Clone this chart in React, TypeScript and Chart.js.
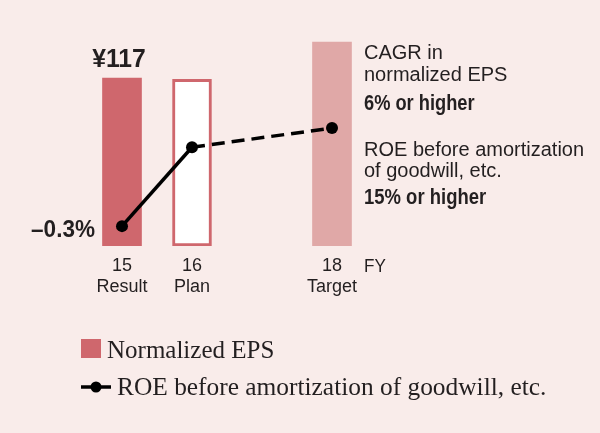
import React, { useEffect, useRef } from 'react';
import { Chart, registerables } from 'chart.js';

Chart.register(...registerables);

// ---- data ----
const years = ['15', '16', '17', '18'];
const yearNotes = ['Result', 'Plan', '', 'Target'];
const epsValues = [117, 116, null, 142];
const roeValues = [-0.3, 12, null, 15];
const epsValueLabel = '¥117';
const roeValueLabel = '–0.3%';
const axisUnit = 'FY';
const epsNoteLines = ['CAGR in', 'normalized EPS'];
const epsNoteTarget = '6% or higher';
const roeNoteLines = ['ROE before amortization', 'of goodwill, etc.'];
const roeNoteTarget = '15% or higher';
const legendLabels = ['Normalized EPS', 'ROE before amortization of goodwill, etc.'];

// ---- style ----
const BG = '#f9ecea';
const RED = '#cf676d';
const PINK = '#e0a8a7';
const INK = '#231f20';
const REG = "'Liberation Sans', Arial, sans-serif";
const SERIF = "'Liberation Serif', 'Times New Roman', serif";

function condensed(ctx: CanvasRenderingContext2D, text: string, x: number, y: number, sx: number) {
  ctx.save();
  ctx.translate(x, y);
  ctx.scale(sx, 1);
  ctx.fillText(text, 0, 0);
  ctx.restore();
}

const annotate = {
  id: 'annotate',
  afterDraw(chart: any) {
    const ctx = chart.ctx as CanvasRenderingContext2D;
    const area = chart.chartArea;
    const barMeta = chart.getDatasetMeta(1);
    const lineMeta = chart.getDatasetMeta(0);
    ctx.save();
    ctx.fillStyle = INK;
    ctx.textBaseline = 'alphabetic';

    // value label above first bar
    const b0 = barMeta.data[0];
    ctx.font = `bold 26px ${REG}`;
    ctx.textAlign = 'center';
    condensed(ctx, epsValueLabel, b0.x - 3, b0.y - 11, 0.95);

    // value label left of first point
    const p0 = lineMeta.data[0];
    ctx.font = `bold 23px ${REG}`;
    ctx.textAlign = 'right';
    condensed(ctx, roeValueLabel, p0.x - 27, p0.y + 10.5, 0.98);

    // right-side notes
    const nx = area.right - 3;
    ctx.textAlign = 'left';
    ctx.font = `20px ${REG}`;
    ctx.fillText(epsNoteLines[0], nx, 59);
    ctx.fillText(epsNoteLines[1], nx, 80.5);
    ctx.font = `bold 22px ${REG}`;
    condensed(ctx, epsNoteTarget, nx, 110, 0.83);
    ctx.font = `20px ${REG}`;
    ctx.fillText(roeNoteLines[0], nx, 156);
    ctx.fillText(roeNoteLines[1], nx, 177);
    ctx.font = `bold 22px ${REG}`;
    condensed(ctx, roeNoteTarget, nx, 203.5, 0.84);

    // axis unit
    ctx.font = `19px ${REG}`;
    condensed(ctx, axisUnit, nx, 272, 0.9);

    // legend
    ctx.fillStyle = RED;
    ctx.fillRect(81, 339, 20, 19);
    ctx.fillStyle = INK;
    ctx.font = `25px ${SERIF}`;
    ctx.fillText(legendLabels[0], 107, 358);
    ctx.strokeStyle = '#000';
    ctx.lineWidth = 3.5;
    ctx.beginPath();
    ctx.moveTo(81, 387);
    ctx.lineTo(111, 387);
    ctx.stroke();
    ctx.fillStyle = '#000';
    ctx.beginPath();
    ctx.arc(96, 387, 5.5, 0, Math.PI * 2);
    ctx.fill();
    ctx.fillStyle = INK;
    ctx.font = `25.4px ${SERIF}`;
    ctx.fillText(legendLabels[1], 117, 395);
    ctx.restore();
  },
};

export default function App() {
  const ref = useRef<HTMLCanvasElement>(null);
  useEffect(() => {
    if (!ref.current) return;
    const chart = new Chart(ref.current, {
      type: 'bar',
      data: {
        labels: years,
        datasets: [
          {
            type: 'line',
            label: legendLabels[1],
            data: roeValues,
            yAxisID: 'y2',
            order: 0,
            borderColor: '#000',
            backgroundColor: '#000',
            borderWidth: 3.5,
            pointRadius: 6,
            pointBackgroundColor: '#000',
            pointBorderWidth: 0,
            spanGaps: true,
            tension: 0,
            segment: {
              borderDash: (c: any) => (c.p0DataIndex >= 1 ? [13, 7] : undefined),
            },
          } as any,
          {
            type: 'bar',
            label: legendLabels[0],
            data: epsValues,
            yAxisID: 'y',
            order: 1,
            backgroundColor: [RED, '#ffffff', RED, PINK],
            borderColor: [RED, RED, RED, PINK],
            borderWidth: [0, 3, 0, 0],
            borderSkipped: false,
            barThickness: 39,
          } as any,
        ],
      },
      options: {
        responsive: false,
        animation: false,
        layout: { padding: { left: 87, right: 233, top: 30.6, bottom: 0 } },
        plugins: { legend: { display: false }, tooltip: { enabled: false } },
        scales: {
          x: {
            type: 'category',
            offset: true,
            grid: { display: false },
            border: { display: false },
            ticks: {
              autoSkip: false,
              maxRotation: 0,
              padding: 2,
              color: INK,
              font: { family: REG, size: 18, lineHeight: 1.15 },
              callback: (_v: any, i: number) => (yearNotes[i] ? [years[i], yearNotes[i]] : ''),
            },
            afterFit: (s: any) => {
              s.height = 187;
            },
          },
          y: { display: false, min: 0, max: 150 },
          y2: { display: false, min: -3.4, max: 30.2, position: 'right' },
        },
      } as any,
      plugins: [annotate],
    });
    return () => chart.destroy();
  }, []);
  return (
    <div style={{ position: 'fixed', left: 0, top: 0, width: 600, height: 433, background: BG }}>
      <canvas ref={ref} width={600} height={433} style={{ display: 'block', width: 600, height: 433 }} />
    </div>
  );
}
